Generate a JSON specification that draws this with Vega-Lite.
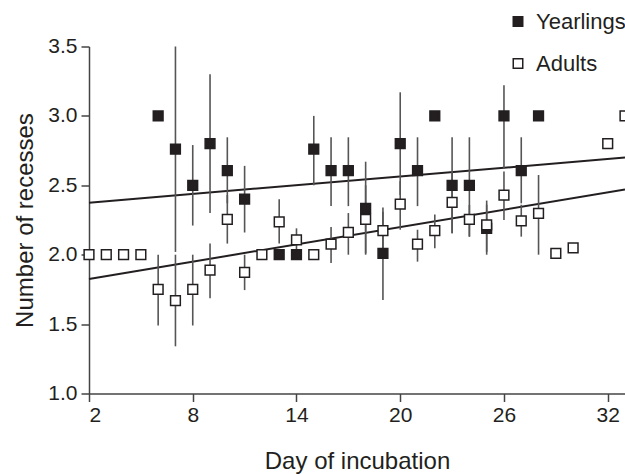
{
  "$schema": "https://vega.github.io/schema/vega-lite/v6.json",
  "autosize": "none",
  "width": 536,
  "height": 347,
  "padding": {"left": 89, "top": 46.5, "right": 0, "bottom": 80.5},
  "background": "white",
  "config": {
    "view": {"stroke": null},
    "font": "Liberation Sans",
    "axis": {
      "grid": false,
      "domainColor": "#444444",
      "domainWidth": 1.5,
      "tickColor": "#444444",
      "tickWidth": 1.5,
      "tickSize": 8,
      "labelColor": "#231f20",
      "labelFont": "Liberation Sans",
      "labelFontSize": 21,
      "titleColor": "#231f20",
      "titleFont": "Liberation Sans",
      "titleFontSize": 24,
      "titleFontWeight": "normal"
    }
  },
  "datasets": {
    "pts": [
      {"group": "Yearlings", "day": 6, "value": 3.0},
      {"group": "Yearlings", "day": 7, "value": 2.76, "lo": 2.02, "hi": 3.5},
      {"group": "Yearlings", "day": 8, "value": 2.5, "lo": 2.21, "hi": 2.79},
      {"group": "Yearlings", "day": 9, "value": 2.8, "lo": 2.3, "hi": 3.3},
      {"group": "Yearlings", "day": 10, "value": 2.605, "lo": 2.37, "hi": 2.846},
      {"group": "Yearlings", "day": 11, "value": 2.4, "lo": 2.16, "hi": 2.64},
      {"group": "Yearlings", "day": 13, "value": 2.0},
      {"group": "Yearlings", "day": 14, "value": 2.0},
      {"group": "Yearlings", "day": 15, "value": 2.76, "lo": 2.5, "hi": 3.0},
      {"group": "Yearlings", "day": 16, "value": 2.605, "lo": 2.35, "hi": 2.846},
      {"group": "Yearlings", "day": 17, "value": 2.605, "lo": 2.35, "hi": 2.846},
      {"group": "Yearlings", "day": 18, "value": 2.334, "lo": 2.0, "hi": 2.67},
      {"group": "Yearlings", "day": 19, "value": 2.01, "lo": 1.674, "hi": 2.34},
      {"group": "Yearlings", "day": 20, "value": 2.8, "lo": 2.43, "hi": 3.17},
      {"group": "Yearlings", "day": 21, "value": 2.605, "lo": 2.35, "hi": 2.846},
      {"group": "Yearlings", "day": 22, "value": 3.0},
      {"group": "Yearlings", "day": 23, "value": 2.5, "lo": 2.154, "hi": 2.846},
      {"group": "Yearlings", "day": 24, "value": 2.5, "lo": 2.13, "hi": 2.846},
      {"group": "Yearlings", "day": 25, "value": 2.19, "lo": 2.02, "hi": 2.36},
      {"group": "Yearlings", "day": 26, "value": 3.0, "lo": 2.62, "hi": 3.22},
      {"group": "Yearlings", "day": 27, "value": 2.605, "lo": 2.37, "hi": 2.846},
      {"group": "Yearlings", "day": 28, "value": 3.0},
      {"group": "Adults", "day": 2, "value": 2.0},
      {"group": "Adults", "day": 3, "value": 2.0},
      {"group": "Adults", "day": 4, "value": 2.0},
      {"group": "Adults", "day": 5, "value": 2.0},
      {"group": "Adults", "day": 6, "value": 1.75, "lo": 1.49, "hi": 2.0},
      {"group": "Adults", "day": 7, "value": 1.67, "lo": 1.34, "hi": 2.0},
      {"group": "Adults", "day": 8, "value": 1.75, "lo": 1.49, "hi": 2.0},
      {"group": "Adults", "day": 9, "value": 1.888, "lo": 1.686, "hi": 2.08},
      {"group": "Adults", "day": 10, "value": 2.255, "lo": 2.08, "hi": 2.43},
      {"group": "Adults", "day": 11, "value": 1.873, "lo": 1.745, "hi": 2.0},
      {"group": "Adults", "day": 12, "value": 2.0},
      {"group": "Adults", "day": 13, "value": 2.237, "lo": 2.08, "hi": 2.4},
      {"group": "Adults", "day": 14, "value": 2.106, "lo": 2.02, "hi": 2.19},
      {"group": "Adults", "day": 15, "value": 2.0},
      {"group": "Adults", "day": 16, "value": 2.077, "lo": 1.94, "hi": 2.2},
      {"group": "Adults", "day": 17, "value": 2.16, "lo": 2.0, "hi": 2.3},
      {"group": "Adults", "day": 18, "value": 2.255, "lo": 2.01, "hi": 2.5},
      {"group": "Adults", "day": 19, "value": 2.173, "lo": 2.04, "hi": 2.31},
      {"group": "Adults", "day": 20, "value": 2.365, "lo": 2.18, "hi": 2.53},
      {"group": "Adults", "day": 21, "value": 2.077, "lo": 1.95, "hi": 2.18},
      {"group": "Adults", "day": 22, "value": 2.173, "lo": 2.046, "hi": 2.29},
      {"group": "Adults", "day": 23, "value": 2.377, "lo": 2.154, "hi": 2.6},
      {"group": "Adults", "day": 24, "value": 2.255, "lo": 2.13, "hi": 2.358},
      {"group": "Adults", "day": 25, "value": 2.214, "lo": 2.0, "hi": 2.39},
      {"group": "Adults", "day": 26, "value": 2.43, "lo": 2.25, "hi": 2.6},
      {"group": "Adults", "day": 27, "value": 2.243, "lo": 2.13, "hi": 2.36},
      {"group": "Adults", "day": 28, "value": 2.298, "lo": 2.0, "hi": 2.574},
      {"group": "Adults", "day": 29, "value": 2.01},
      {"group": "Adults", "day": 30, "value": 2.05},
      {"group": "Adults", "day": 32, "value": 2.8},
      {"group": "Adults", "day": 33, "value": 3.0}
    ],
    "fits": [
      {"group": "Yearlings", "day": 2, "value": 2.375},
      {"group": "Yearlings", "day": 33, "value": 2.7},
      {"group": "Adults", "day": 2, "value": 1.825},
      {"group": "Adults", "day": 33, "value": 2.47}
    ]
  },
  "layer": [
    {
      "data": {"name": "fits"},
      "mark": {"type": "line", "color": "#231f20", "strokeWidth": 2},
      "encoding": {
        "x": {"field": "day", "type": "quantitative"},
        "y": {"field": "value", "type": "quantitative"},
        "detail": {"field": "group"}
      }
    },
    {
      "data": {"name": "pts"},
      "transform": [{"filter": "isValid(datum.lo)"}],
      "mark": {"type": "rule", "color": "#555555", "strokeWidth": 1.6},
      "encoding": {
        "x": {"field": "day", "type": "quantitative"},
        "y": {"field": "lo", "type": "quantitative"},
        "y2": {"field": "hi"}
      }
    },
    {
      "data": {"name": "pts"},
      "mark": {"type": "point", "shape": "square", "filled": true, "size": 95, "stroke": "#231f20", "strokeWidth": 1.5, "opacity": 1},
      "encoding": {
        "x": {
          "field": "day", "type": "quantitative",
          "scale": {"domain": [2, 33], "nice": false, "zero": false},
          "axis": {"values": [2, 8, 14, 20, 26, 32], "title": "Day of incubation", "labelPadding": 3, "titlePadding": 24}
        },
        "y": {
          "field": "value", "type": "quantitative",
          "scale": {"domain": [1, 3.5], "nice": false, "zero": false},
          "axis": {"values": [1, 1.5, 2, 2.5, 3, 3.5], "format": ".1f", "title": "Number of recesses", "labelPadding": 4, "titlePadding": 10}
        },
        "fill": {
          "field": "group", "type": "nominal",
          "scale": {"domain": ["Yearlings", "Adults"], "range": ["#231f20", "#ffffff"]},
          "legend": {
            "title": null,
            "orient": "none",
            "legendX": 418,
            "legendY": -36,
            "symbolType": "square",
            "symbolSize": 90,
            "symbolStrokeColor": "#231f20",
            "symbolStrokeWidth": 1.5,
            "labelFontSize": 22,
            "labelFont": "Liberation Sans",
            "labelColor": "#231f20",
            "labelOffset": 7,
            "rowPadding": 20
          }
        }
      }
    }
  ]
}
